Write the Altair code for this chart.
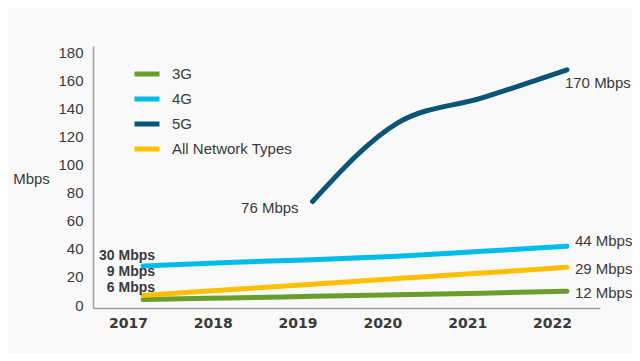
import altair as alt
import pandas as pd

# ---- data ----
years = [2017, 2018, 2019, 2020, 2021, 2022]
g3_values = [6, 7.2, 8.3, 9.4, 10.6, 12]
g4_values = [30, 32.5, 34.5, 37, 40.5, 44]
g5_years = [2019, 2020, 2021, 2022]
g5_values = [76, 132, 150, 170]
all_values = [9, 13, 17, 21, 25, 29]
series_names = ["3G", "4G", "5G", "All Network Types"]
series_colors = ["#6a9e2c", "#00bceb", "#0a5577", "#fcc000"]
y_ticks = [0, 20, 40, 60, 80, 100, 120, 140, 160, 180]

# annotations (series, year, text)
ann_series = ["4G", "All Network Types", "3G", "5G", "5G", "4G", "All Network Types", "3G"]
ann_years = [2017, 2017, 2017, 2019, 2022, 2022, 2022, 2022]
ann_texts = ["30 Mbps", "9 Mbps", "6 Mbps", "76 Mbps", "170 Mbps", "44 Mbps", "29 Mbps", "12 Mbps"]
# styles for the annotations: align, dx, dy, bold
ann_styles = [
    ("right", 12, -10, True),
    ("right", 12, -23, True),
    ("right", 12, -12, True),
    ("right", -14, 6, False),
    ("left", -2, 13, False),
    ("left", 8, -5, False),
    ("left", 8, 2, False),
    ("left", 8, 2, False),
]

rows = []
series_data = {
    "3G": (years, g3_values),
    "4G": (years, g4_values),
    "5G": (g5_years, g5_values),
    "All Network Types": (years, all_values),
}
for name in series_names:
    ys, vs = series_data[name]
    for y, v in zip(ys, vs):
        rows.append({"series": name, "year": y, "value": v})
df = pd.DataFrame(rows)

ann_rows = []
for s, yr, t in zip(ann_series, ann_years, ann_texts):
    ys, vs = series_data[s]
    ann_rows.append({"series": s, "year": yr, "value": vs[ys.index(yr)], "label": t})
ann_df = pd.DataFrame(ann_rows)

FONT = "Liberation Sans"
TXT = "#3a3a3a"

x_scale = alt.Scale(domain=[2016.41, 2022.39], nice=False, zero=False)
y_scale = alt.Scale(domain=[0, 187], nice=False, zero=False)

x_axis = alt.Axis(
    values=years, format="d", title=None, grid=False, ticks=False,
    labelFont="DejaVu Sans", labelFontWeight="bold", labelFontSize=14,
    labelColor=TXT, labelOffset=-15, labelPadding=8, labelOverlap=False,
    domainColor="#a0a0a0", domainWidth=1.5)
y_axis = alt.Axis(
    values=y_ticks, title="Mbps", grid=False, ticks=False,
    labelFont=FONT, labelFontSize=15, labelColor=TXT, labelPadding=10,
    labelOffset=-3, labelOverlap=False,
    titleAngle=0, titleX=-62, titleY=132, titleAlign="center",
    titleBaseline="middle", titleFont=FONT, titleFontSize=15,
    titleFontWeight="normal", titleColor=TXT,
    domainColor="#a0a0a0", domainWidth=1.5)

lines = alt.Chart(df).mark_line(
    strokeWidth=5, strokeCap="round", interpolate="monotone"
).encode(
    x=alt.X("year:Q", scale=x_scale, axis=x_axis),
    y=alt.Y("value:Q", scale=y_scale, axis=y_axis),
    color=alt.Color("series:N", scale=alt.Scale(domain=series_names, range=series_colors),
                    legend=alt.Legend(
                        title=None, orient="none", legendX=39, legendY=13,
                        symbolType="stroke", symbolSize=625, symbolStrokeWidth=5,
                        labelFont=FONT, labelFontSize=15, labelColor=TXT,
                        labelOffset=10, rowPadding=0, padding=0)),
)

layers = [lines]
for i, (align, dx, dy, bold) in enumerate(ann_styles):
    sub = ann_df.iloc[[i]]
    layers.append(
        alt.Chart(sub).mark_text(
            align=align, baseline="middle", dx=dx, dy=dy, font=FONT,
            fontSize=15 if not bold else 14, fontWeight="bold" if bold else "normal",
            color=TXT,
        ).encode(
            x=alt.X("year:Q", scale=x_scale, axis=x_axis),
            y=alt.Y("value:Q", scale=y_scale, axis=y_axis),
            text="label:N",
        )
    )

chart = alt.layer(*layers).properties(
    width=507, height=262,
    autosize=alt.AutoSizeParams(type="none"),
    padding={"left": 85, "top": 38, "right": 32, "bottom": 45},
    background="#f9f9f9",
).configure_view(stroke=None).configure_axis(labelOverlap=False)

chart.save("out.html", embed_options={"renderer": "svg", "actions": False})
